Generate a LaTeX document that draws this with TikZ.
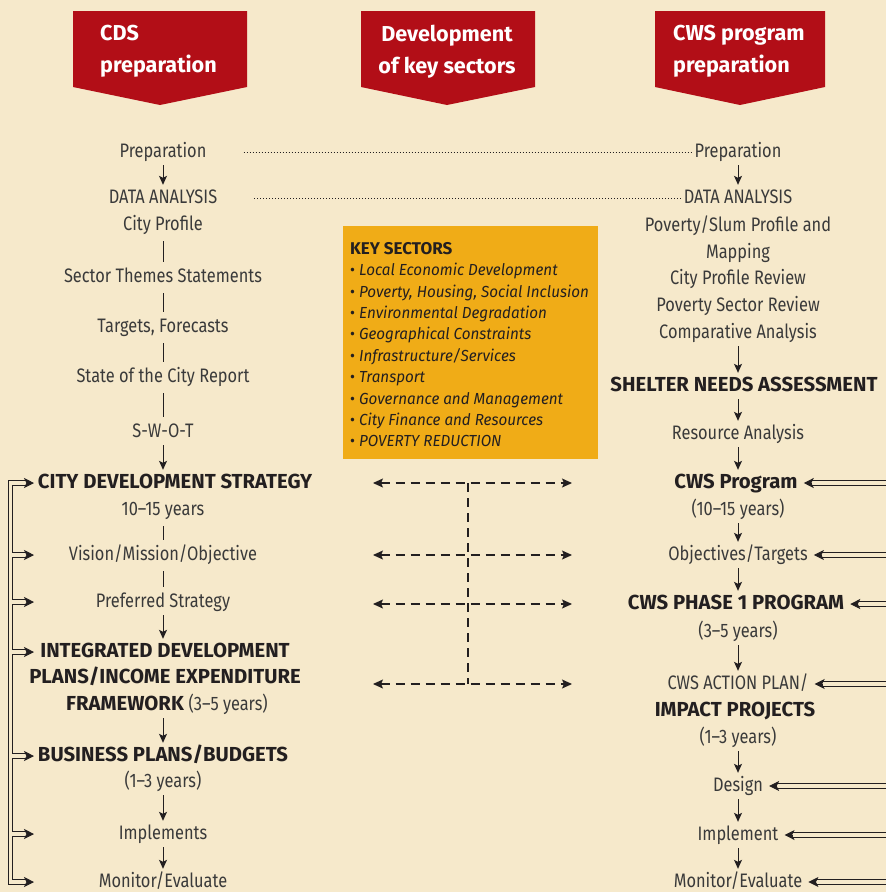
\documentclass[tikz,border=0pt]{standalone}
\usepackage{fontspec}
\setmainfont{Fira Sans}
\newfontfamily\schmal{Fira Sans}[FakeStretch=0.84]
\newfontfamily\sektorfont{Fira Sans}[FakeStretch=0.95]
\usepackage{tikz}
\usetikzlibrary{arrows.meta}

\definecolor{hgbeige}{HTML}{F6E9CB}
\definecolor{bannerrot}{HTML}{B20E17}
\definecolor{sektorgelb}{HTML}{F0AC17}
\definecolor{tinte}{HTML}{3A3A3A}
\definecolor{tinteb}{HTML}{231F20}

\begin{document}
\begin{tikzpicture}
		[
		x=1pt, y=-1pt, font=\schmal\fontsize{19.5}{26}\selectfont, >={Stealth[length=9pt,width=8pt,inset=2pt]},
		%Voreinstellungen für Knoten und Pfeile
		txt/.style={text=tinte, inner xsep=2pt, inner ysep=2pt, text height=14pt, text depth=4pt},
		fett/.style={txt, text=tinteb, font=\fontsize{20.3}{26}\selectfont\bfseries},
		pfeil/.style={->, draw=tinteb, line width=0.9pt, shorten <=2pt, shorten >=2pt},
		linie/.style={draw=tinteb, line width=0.9pt, shorten <=5pt, shorten >=4pt},
		dbllinie/.style={draw=tinteb, line width=0.9pt},
		dblkopf/.style={draw=tinteb, line width=0.9pt, -{Stealth[length=10pt,width=10pt,inset=2.5pt]}},
		strich/.style={draw=tinteb, line width=1.1pt, dash pattern=on 9pt off 6pt},
		punkt/.style={draw=tinteb, line width=1pt, dash pattern=on 1pt off 2pt},
		bannertxt/.style={text=white, inner sep=0pt, font=\fontsize{21.6}{32}\selectfont\bfseries}
		]
		
		%Hintergrund
		\useasboundingbox (0,0) rectangle (886,892);
		\fill[hgbeige] (0,0) rectangle (886,892);
		
		%Banner oben
		\fill[bannerrot] (73,11) -- (247,11) -- (247,87) -- (160,105) -- (73,87) -- cycle;
		\fill[bannerrot] (361,11) -- (535,11) -- (535,87) -- (447,105) -- (361,87) -- cycle;
		\fill[bannerrot] (655,11) -- (825,11) -- (825,87) -- (740,105) -- (655,87) -- cycle;
		\node (bcds) [bannertxt, anchor=north west, align=left] at (100,25) {CDS\\preparation};
		\node (bsek) [bannertxt, anchor=north, align=center] at (447,25) {Development\\of key sectors};
		\node (bcws) [bannertxt, anchor=north west, align=left] at (673,25) {CWS program\\preparation};
		
		%linke Spalte
		\node (lprep) [txt] at (163,152) {Preparation};
		\node (lda) [txt] at (163,198) {DATA ANALYSIS};
		\node (lprofil) [txt] at (163,225) {City Profile};
		\node (lthemen) [txt] at (163,277) {Sector Themes Statements};
		\node (lziele) [txt] at (163,327) {Targets, Forecasts};
		\node (lbericht) [txt] at (163,377) {State of the City Report};
		\node (lswot) [txt] at (163,432) {S-W-O-T};
		\node (lcds) [fett] at (175,483) {CITY DEVELOPMENT STRATEGY};
		\node (ljahre) [txt] at (163,510) {10–15 years};
		\node (lvision) [txt] at (163,555) {Vision/Mission/Objective};
		\node (lstrat) [txt] at (163,602) {Preferred Strategy};
		\node (lidp1) [fett] at (165,652) {INTEGRATED DEVELOPMENT};
		\node (lidp2) [fett] at (165,678) {PLANS/INCOME EXPENDITURE};
		\node (lidp3) [fett] at (167,705) {FRAMEWORK {\color{tinte}\schmal\mdseries\fontsize{19.5}{26}\selectfont (3–5 years)}};
		\node (lbudget) [fett] at (163,756) {BUSINESS PLANS/BUDGETS};
		\node (lbjahre) [txt] at (163,782) {(1–3 years)};
		\node (limpl) [txt] at (163,834) {Implements};
		\node (lmon) [txt] at (163,882) {Monitor/Evaluate};
		
		\draw[pfeil] (lprep) -- (lda);
		\draw[linie] (lprofil) -- (lthemen);
		\draw[linie] (lthemen) -- (lziele);
		\draw[linie] (lziele) -- (lbericht);
		\draw[linie] (lbericht) -- (lswot);
		\draw[pfeil] (lswot) -- (lswot |- lcds.north);
		\draw[linie] (ljahre) -- (lvision);
		\draw[linie] (lvision) -- (lstrat);
		\draw[pfeil] (lstrat) -- (lstrat |- lidp1.north);
		\draw[pfeil] (lbudget |- lidp3.south) -- (lbudget);
		\draw[pfeil] (lbjahre) -- (limpl);
		\draw[pfeil] (limpl) -- (lmon);
		
		%rechte Spalte
		\node (rprep) [txt] at (738,152) {Preparation};
		\node (rda) [txt] at (738,198) {DATA ANALYSIS};
		\node (rprof1) [txt] at (738,226) {Poverty/Slum Profile and};
		\node (rprof2) [txt] at (738,253) {Mapping};
		\node (rprof3) [txt] at (738,279) {City Profile Review};
		\node (rprof4) [txt] at (738,306) {Poverty Sector Review};
		\node (rprof5) [txt] at (738,333) {Comparative Analysis};
		\node (rshelter) [fett] at (744,386) {SHELTER NEEDS ASSESSMENT};
		\node (rres) [txt] at (738,434) {Resource Analysis};
		\node (rprog) [fett] at (736,483) {CWS Program};
		\node (rpjahre) [txt] at (738,510) {(10–15 years)};
		\node (rziele) [txt] at (738,555) {Objectives/Targets};
		\node (rphase) [fett] at (736,604) {CWS PHASE 1 PROGRAM};
		\node (rphjahre) [txt] at (738,632) {(3–5 years)};
		\node (raktion) [txt] at (738,684) {CWS ACTION PLAN/};
		\node (rimpact) [fett] at (735,711) {IMPACT PROJECTS};
		\node (rijahre) [txt] at (738,738) {(1–3 years)};
		\node (rdesign) [txt] at (738,786) {Design};
		\node (rimpl) [txt] at (738,835) {Implement};
		\node (rmon) [txt] at (738,882) {Monitor/Evaluate};
		
		\draw[pfeil] (rprep) -- (rda);
		\draw[pfeil] (rprof5) -- (rprof5 |- rshelter.north);
		\draw[pfeil] (rres |- rshelter.south) -- (rres);
		\draw[pfeil] (rres) -- (rres |- rprog.north);
		\draw[pfeil] (rpjahre) -- (rziele);
		\draw[pfeil] (rziele) -- (rziele |- rphase.north);
		\draw[pfeil] (rphjahre) -- (raktion);
		\draw[pfeil] (rijahre) -- (rdesign);
		\draw[pfeil] (rdesign) -- (rimpl);
		\draw[pfeil] (rimpl) -- (rmon);
		
		%gepunktete Linien
		\draw[punkt] ([xshift=35pt]lprep.east) -- (rprep.west);
		\draw[punkt] ([xshift=35pt]lda.east) -- (rda.west);
		
		%Kasten Schlüsselsektoren
		\node (sektorbox) [fill=sektorgelb, anchor=north west, minimum width=255pt, minimum height=233pt, inner sep=0pt] at (343,226) {};
		\node (sektortext) [anchor=north west, align=left, inner sep=0pt, text=tinteb, font=\sektorfont\fontsize{16}{21.4}\selectfont] at (350,242)
		{{\rmfamily\bfseries\fontsize{17}{21.4}\selectfont KEY SECTORS}\\
		• \textit{Local Economic Development}\\
		• \textit{Poverty, Housing, Social Inclusion}\\
		• \textit{Environmental Degradation}\\
		• \textit{Geographical Constraints}\\
		• \textit{Infrastructure/Services}\\
		• \textit{Transport}\\
		• \textit{Governance and Management}\\
		• \textit{City Finance and Resources}\\
		• \textit{POVERTY REDUCTION}};
		
		%gestrichelte Pfeile in der Mitte
		\coordinate (kl) at (373,0);
		\coordinate (kr) at (572,0);
		\coordinate (km) at (468,0);
		\draw[strich] (km |- rprog) -- (km |- raktion);
		\foreach \n in {rprog,rziele,rphase,raktion}
		\draw[strich, {Stealth[length=10pt,width=9pt,inset=2pt]}-{Stealth[length=10pt,width=9pt,inset=2pt]}] (kl |- \n) -- (kr |- \n);
		
		%Doppelpfeile links
		\coordinate (lbalkena) at (8.3,0);
		\coordinate (lbalkenb) at (12.7,0);
		\coordinate (lende) at (26,0);
		\coordinate (lspitze) at (34,0);
		\draw[dbllinie] ([yshift=2.2pt]lende |- lcds) -- ([yshift=2.2pt]lbalkena |- lcds) -- ([yshift=-2.2pt]lbalkena |- lmon) -- ([yshift=-2.2pt]lende |- lmon);
		\draw[dbllinie] ([yshift=-2.2pt]lende |- lcds) -- ([yshift=-2.2pt]lbalkenb |- lcds) -- ([yshift=2.2pt]lbalkenb |- lmon) -- ([yshift=2.2pt]lende |- lmon);
		\foreach \n in {lvision,lstrat,lidp1,lbudget,limpl}
		{
		\draw[draw=hgbeige, line width=3.4pt] ([xshift=-0.6pt]lbalkenb |- \n) -- ([xshift=0.6pt]lbalkenb |- \n);
		\draw[dbllinie] ([yshift=2.2pt]lbalkenb |- \n) -- ([yshift=2.2pt]lende |- \n);
		\draw[dbllinie] ([yshift=-2.2pt]lbalkenb |- \n) -- ([yshift=-2.2pt]lende |- \n);
		}
		\foreach \n in {lcds,lvision,lstrat,lidp1,lbudget,limpl,lmon}
		\draw[dblkopf] ([xshift=-7pt]lspitze |- \n) -- (lspitze |- \n);
		
		%Doppelpfeile rechts
		\coordinate (rrand) at (890,0);
		\foreach \n in {rprog,rziele,rphase,raktion,rdesign,rimpl,rmon}
		{
		\draw[dbllinie] ([yshift=2.2pt]rrand |- \n) -- ([xshift=12pt,yshift=2.2pt]\n.east);
		\draw[dbllinie] ([yshift=-2.2pt]rrand |- \n) -- ([xshift=12pt,yshift=-2.2pt]\n.east);
		\draw[dblkopf] ([xshift=11pt]\n.east) -- ([xshift=4pt]\n.east);
		}
		
\end{tikzpicture}
\end{document}
